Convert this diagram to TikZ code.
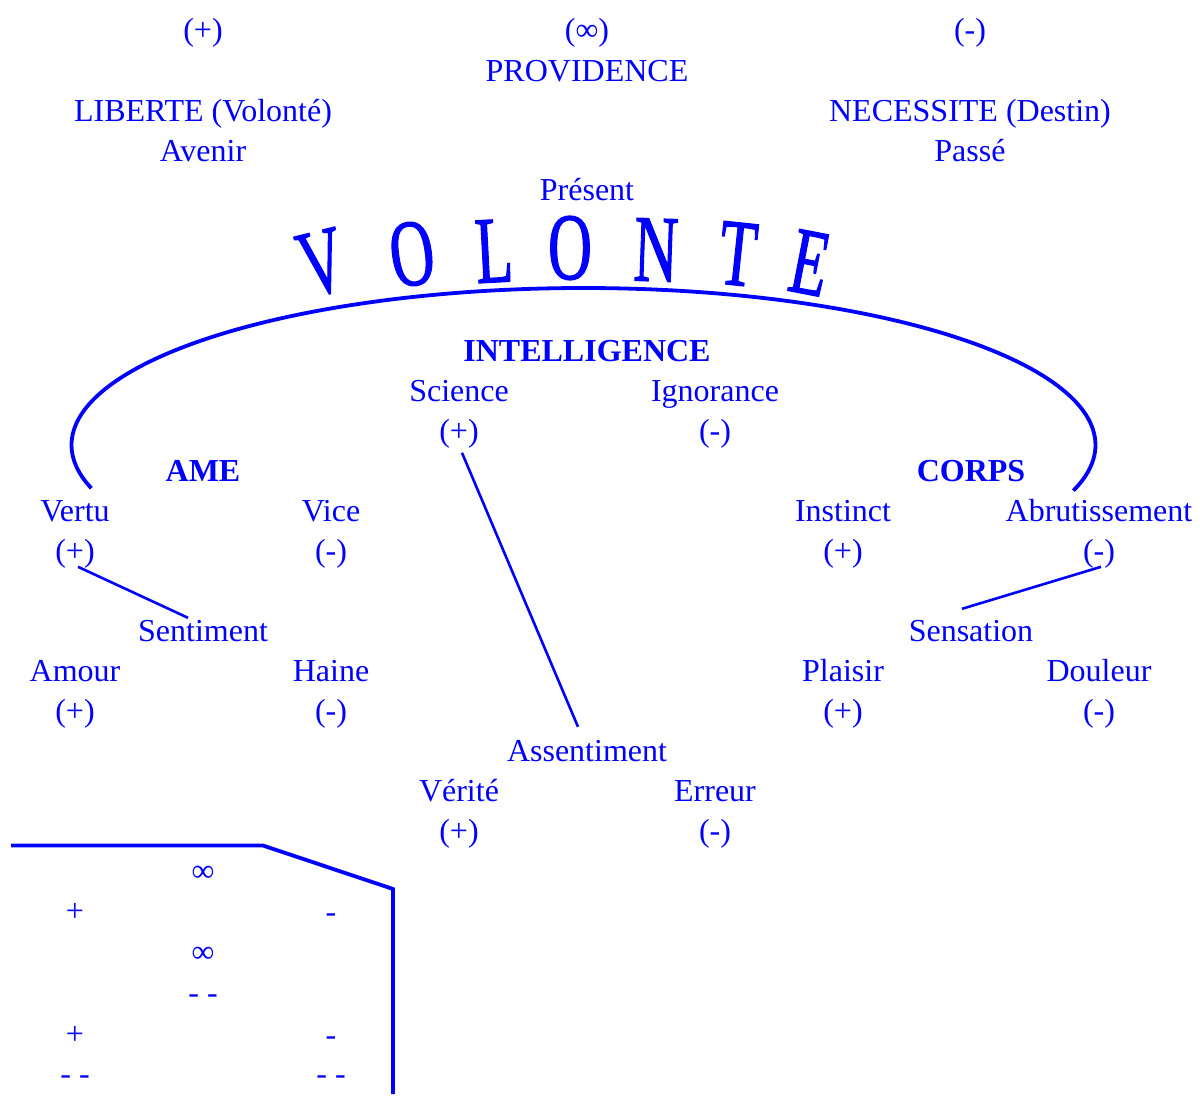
\documentclass[tikz,border=0pt]{standalone}
\usepackage{fontspec}
\usepackage{graphicx}
\setmainfont{Liberation Serif}
\newfontfamily\volfont[FakeBold=1.5]{Liberation Serif}
\usetikzlibrary{calc}
\definecolor{vblue}{RGB}{0,0,255}
\begin{document}
\begin{tikzpicture}[x=1pt,y=-1pt,
  every node/.style={inner sep=0pt, outer sep=0pt, text=vblue},
  lbl/.style={anchor=base, font=\fontsize{32}{38}\selectfont},
  hd/.style={anchor=base, font=\fontsize{32}{38}\selectfont\bfseries},
  big/.style={anchor=center, font=\volfont\fontsize{95}{100}\selectfont},
  link/.style={draw=vblue, line width=2.6pt},
  arcline/.style={draw=vblue, line width=3.8pt},
  boxline/.style={draw=vblue, line width=3.8pt},
]
\useasboundingbox (0,0) rectangle (1200,1102);

% top rows
\node[lbl] (tplus)  at (203,41) {(+)};
\node[lbl] (tinf)   at (587,41) {(∞)};
\node[lbl] (tminus) at (970,41) {(-)};
\node[lbl] (prov)   at (587,82) {PROVIDENCE};
\node[lbl] (lib)    at (203,122) {LIBERTE (Volonté)};
\node[lbl] (nec)    at (970,122) {NECESSITE (Destin)};
\node[lbl] (aven)   at (203,162) {Avenir};
\node[lbl] (passe)  at (970,162) {Passé};
\node[lbl] (pres)   at (587,201) {Présent};

% VOLONTE
\node[big, rotate=14] (l1) at (322,263) {\scalebox{0.64}[1]{V}};
\node[big, rotate=8]  (l2) at (412,254) {\scalebox{0.64}[1]{O}};
\node[big, rotate=3]  (l3) at (494,251) {\scalebox{0.64}[1]{L}};
\node[big, rotate=0]  (l4) at (570,248) {\scalebox{0.64}[1]{O}};
\node[big, rotate=-2] (l5) at (656,250) {\scalebox{0.64}[1]{N}};
\node[big, rotate=-6] (l6) at (738,254) {\scalebox{0.64}[1]{T}};
\node[big, rotate=-11](l7) at (810,263) {\scalebox{0.64}[1]{E}};

% arc
\draw[arcline] plot[domain=164:376.9, samples=150, smooth] ({583.5+512*cos(\x)}, {445+157*sin(\x)});

% intelligence
\node[hd]  (intel) at (587,361) {INTELLIGENCE};
\node[lbl] (sci)   at (459,401) {Science};
\node[lbl] (ign)   at (715,401) {Ignorance};
\node[lbl] (scip)  at (459,441) {(+)};
\node[lbl] (ignm)  at (715,441) {(-)};

% ame / corps
\node[hd]  (ame)   at (203,481) {AME};
\node[hd]  (corps) at (971,481) {CORPS};
\node[lbl] (vertu) at (75,521) {Vertu};
\node[lbl] (vice)  at (331,521) {Vice};
\node[lbl] (inst)  at (843,521) {Instinct};
\node[lbl] (abru)  at (1099,521) {Abrutissement};
\node[lbl] (vertp) at (75,561) {(+)};
\node[lbl] (vicem) at (331,561) {(-)};
\node[lbl] (instp) at (843,561) {(+)};
\node[lbl] (abrum) at (1099,561) {(-)};

\node[lbl] (sent)  at (203,641) {Sentiment};
\node[lbl] (sens)  at (971,641) {Sensation};
\node[lbl] (amour) at (75,681) {Amour};
\node[lbl] (haine) at (331,681) {Haine};
\node[lbl] (plai)  at (843,681) {Plaisir};
\node[lbl] (doul)  at (1099,681) {Douleur};
\node[lbl] (amp)   at (75,721) {(+)};
\node[lbl] (ham)   at (331,721) {(-)};
\node[lbl] (plp)   at (843,721) {(+)};
\node[lbl] (dom)   at (1099,721) {(-)};

\node[lbl] (assent) at (587,761) {Assentiment};
\node[lbl] (verite) at (459,801) {Vérité};
\node[lbl] (erreur) at (715,801) {Erreur};
\node[lbl] (verp)   at (459,841) {(+)};
\node[lbl] (errm)   at (715,841) {(-)};

% connectors
\draw[link] ($(vertp.south)+(3,-1)$) -- ($(sent.north)+(-15,-2)$);
\draw[link] ($(abrum.south)+(2,-1)$) -- ($(sens.north)+(-9,-11)$);
\draw[link] ($(scip.south)+(3,5)$) -- ($(assent.north)+(-9,-13)$);

% bottom-left box
\draw[boxline] (11,845.5) -- (263,845.5) -- (393,889) -- (393,1094);
\node[lbl] (b1) at (203,881) {∞};
\node[lbl] (b2) at (75,921) {+};
\node[lbl] (b3) at (331,922) {-};
\node[lbl] (b4) at (203,962) {∞};
\node[lbl] (b5) at (203,1003) {- -};
\node[lbl] (b6) at (75,1044) {+};
\node[lbl] (b7) at (331,1045) {-};
\node[lbl] (b8) at (75,1084) {- -};
\node[lbl] (b9) at (331,1084) {- -};
\end{tikzpicture}
\end{document}
